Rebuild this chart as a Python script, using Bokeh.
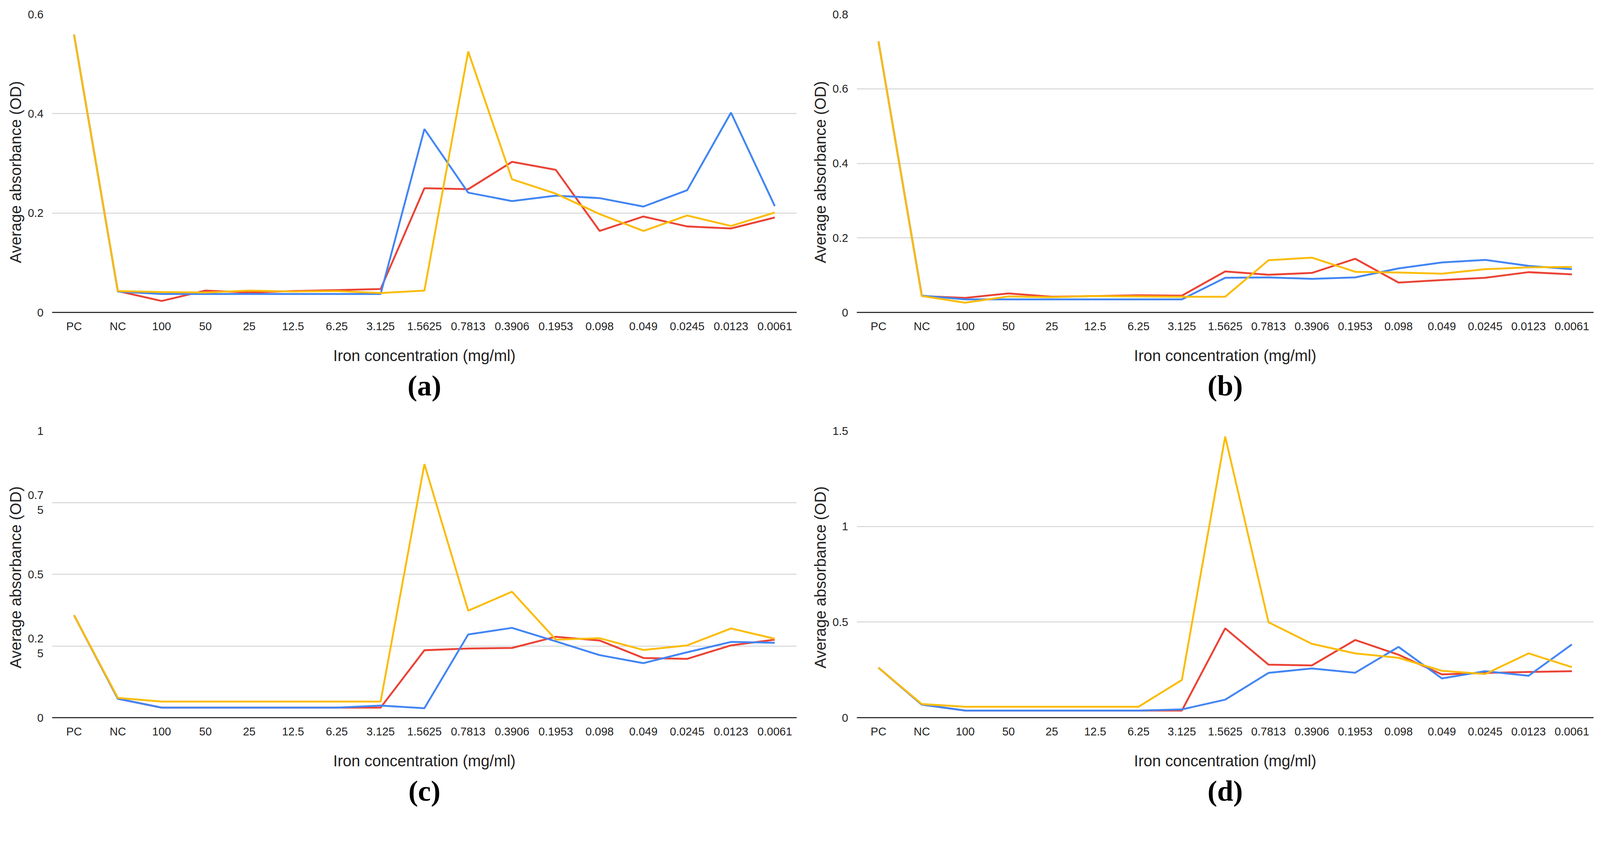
from bokeh.plotting import figure
from bokeh.layouts import column, row
from bokeh.models import FactorRange, Range1d, FixedTicker, Title
from bokeh.embed import file_html
from bokeh.resources import INLINE

categories = ["PC", "NC", "100", "50", "25", "12.5", "6.25", "3.125", "1.5625",
              "0.7813", "0.3906", "0.1953", "0.098", "0.049", "0.0245", "0.0123", "0.0061"]

a_blue = [0.559, 0.042, 0.037, 0.037, 0.037, 0.037, 0.037, 0.037, 0.369, 0.241, 0.224, 0.235, 0.230, 0.213, 0.246, 0.402, 0.214]
a_red = [0.559, 0.043, 0.023, 0.044, 0.040, 0.043, 0.045, 0.047, 0.250, 0.248, 0.303, 0.287, 0.164, 0.193, 0.173, 0.169, 0.191]
a_yellow = [0.559, 0.043, 0.041, 0.040, 0.044, 0.042, 0.043, 0.039, 0.044, 0.525, 0.268, 0.239, 0.198, 0.164, 0.195, 0.174, 0.201]

b_blue = [0.727, 0.045, 0.035, 0.035, 0.035, 0.035, 0.035, 0.035, 0.093, 0.094, 0.090, 0.094, 0.118, 0.134, 0.141, 0.125, 0.116]
b_red = [0.727, 0.044, 0.039, 0.051, 0.042, 0.044, 0.046, 0.045, 0.110, 0.101, 0.106, 0.144, 0.080, 0.087, 0.093, 0.108, 0.102]
b_yellow = [0.727, 0.044, 0.026, 0.043, 0.041, 0.044, 0.043, 0.042, 0.042, 0.140, 0.147, 0.109, 0.107, 0.104, 0.116, 0.121, 0.122]

c_blue = [0.357, 0.066, 0.035, 0.035, 0.035, 0.035, 0.035, 0.042, 0.033, 0.290, 0.313, 0.266, 0.218, 0.190, 0.228, 0.264, 0.261]
c_red = [0.357, 0.066, 0.035, 0.035, 0.035, 0.035, 0.035, 0.035, 0.235, 0.241, 0.243, 0.282, 0.269, 0.208, 0.205, 0.252, 0.272]
c_yellow = [0.357, 0.069, 0.056, 0.056, 0.056, 0.056, 0.056, 0.056, 0.884, 0.373, 0.439, 0.272, 0.277, 0.236, 0.252, 0.311, 0.275]

d_blue = [0.261, 0.068, 0.037, 0.037, 0.037, 0.037, 0.037, 0.043, 0.094, 0.234, 0.257, 0.235, 0.370, 0.205, 0.243, 0.219, 0.383]
d_red = [0.261, 0.068, 0.037, 0.037, 0.037, 0.037, 0.037, 0.037, 0.467, 0.277, 0.273, 0.406, 0.329, 0.226, 0.234, 0.239, 0.243]
d_yellow = [0.261, 0.071, 0.057, 0.057, 0.057, 0.057, 0.057, 0.197, 1.470, 0.499, 0.386, 0.336, 0.313, 0.245, 0.228, 0.336, 0.264]

a_ticks = [0, 0.2, 0.4, 0.6]
a_labels = ["0", "0.2", "0.4", "0.6"]
b_ticks = [0, 0.2, 0.4, 0.6, 0.8]
b_labels = ["0", "0.2", "0.4", "0.6", "0.8"]
c_ticks = [0, 0.25, 0.5, 0.75, 1]
c_labels = ["0", "0.2\n5", "0.5", "0.7\n5", "1"]
d_ticks = [0, 0.5, 1, 1.5]
d_labels = ["0", "0.5", "1", "1.5"]

x_title = "Iron concentration (mg/ml)"
y_title = "Average absorbance (OD)"

BLUE = "#4285F4"
RED = "#EA4335"
YELLOW = "#FBBC04"
SANS = "Liberation Sans"
S = 0.955


def px(v):
    return int(round(v * S))


def fs(v):
    return "%dpx" % px(v)


def panel(caption, blue, red, yellow, ticks, labels, ymax, left, right, top, bottom):
    p = figure(width=px(2140), height=px(1086), x_range=FactorRange(*categories),
               y_range=Range1d(0, ymax), output_backend="svg", toolbar_location=None,
               min_border_left=px(left), min_border_right=px(right),
               min_border_top=px(top), min_border_bottom=px(bottom))
    p.outline_line_color = None
    p.background_fill_color = "white"
    p.border_fill_color = "white"
    p.line(categories, red, line_color=RED, line_width=5 * S)
    p.line(categories, blue, line_color=BLUE, line_width=5 * S)
    p.line(categories, yellow, line_color=YELLOW, line_width=5 * S)

    p.xgrid.grid_line_color = None
    p.ygrid.grid_line_color = "#cccccc"
    p.ygrid.grid_line_width = 2 * S

    p.yaxis.ticker = FixedTicker(ticks=ticks)
    p.yaxis.major_label_overrides = {t: l for t, l in zip(ticks, labels)}
    p.yaxis.axis_line_color = None
    p.yaxis.major_tick_line_color = None
    p.yaxis.minor_tick_line_color = None
    p.yaxis.major_label_text_font = SANS
    p.yaxis.major_label_text_font_size = fs(30)
    p.yaxis.major_label_text_color = "#222222"
    p.yaxis.major_label_standoff = px(17)

    p.add_layout(Title(text=y_title, align="left", text_font=SANS,
                       text_font_size=fs(42), text_font_style="normal",
                       text_color="#222222", standoff=px(14), offset=px(132)), "left")

    p.xaxis.axis_line_color = "#333333"
    p.xaxis.axis_line_width = 3 * S
    p.xaxis.major_tick_line_color = None
    p.xaxis.minor_tick_line_color = None
    p.xaxis.major_label_text_font = SANS
    p.xaxis.major_label_text_font_size = fs(30)
    p.xaxis.major_label_text_color = "#222222"
    p.xaxis.major_label_standoff = px(14)
    p.xaxis.axis_label = x_title
    p.xaxis.axis_label_text_font = SANS
    p.xaxis.axis_label_text_font_size = fs(42)
    p.xaxis.axis_label_text_font_style = "normal"
    p.xaxis.axis_label_text_color = "#222222"
    p.xaxis.axis_label_standoff = px(36)

    p.add_layout(Title(text=caption, align="center", text_font="Liberation Serif",
                       text_font_size=fs(78), text_font_style="bold",
                       text_color="black", standoff=px(20)), "below")
    return p


pa = panel("(a)", a_blue, a_red, a_yellow, a_ticks, a_labels, 0.6, 139, 5, 32, 243)
pb = panel("(b)", b_blue, b_red, b_yellow, b_ticks, b_labels, 0.8, 156, 9, 38, 248)
pc = panel("(c)", c_blue, c_red, c_yellow, c_ticks, c_labels, 1.0, 139, 5, 62, 236)
pd = panel("(d)", d_blue, d_red, d_yellow, d_ticks, d_labels, 1.5, 156, 9, 68, 240)

layout = column(row(pa, pb), row(pc, pd))

open("out.html", "w").write(file_html(layout, INLINE))
